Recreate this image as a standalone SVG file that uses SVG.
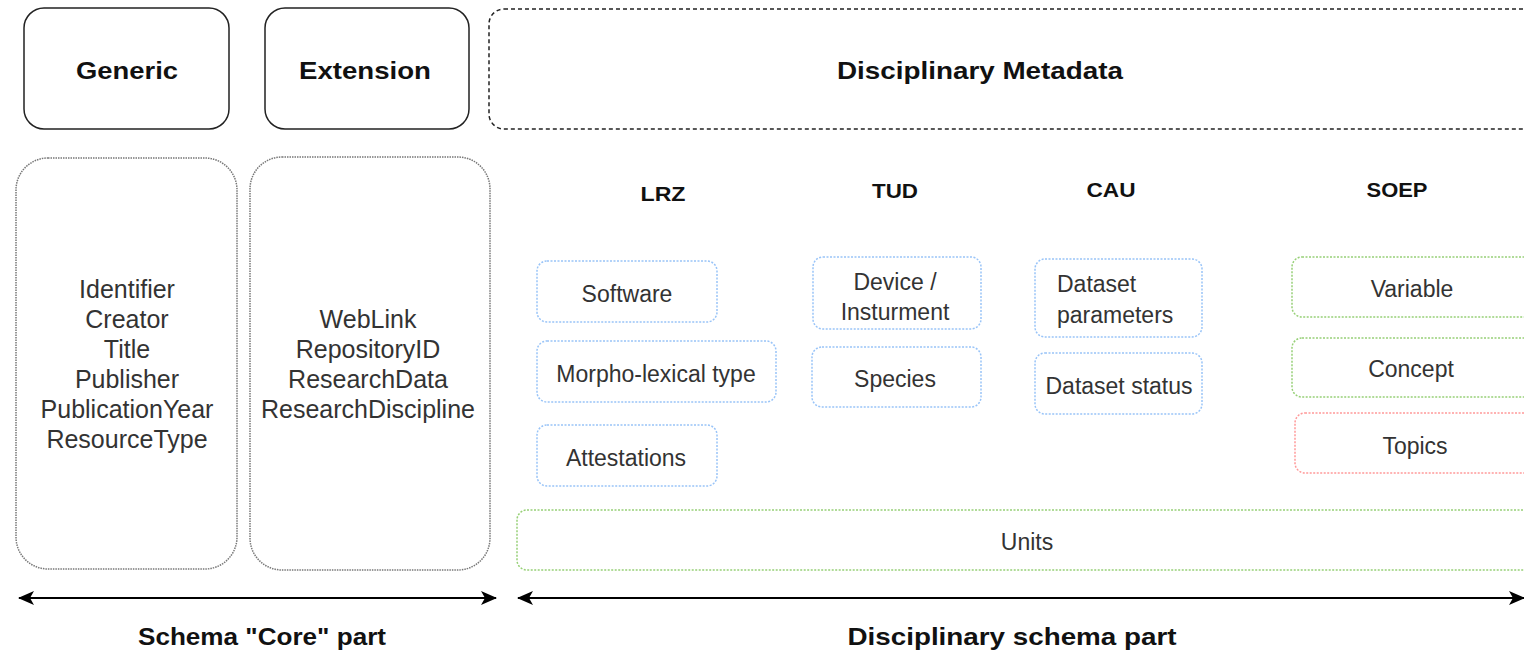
<svg xmlns="http://www.w3.org/2000/svg" width="1524" height="651" viewBox="0 0 1524 651">
<style>
.hdr{fill:#fff;stroke:#222;stroke-width:1.5}
.hdrd{fill:#fff;stroke:#222;stroke-width:1.5;stroke-dasharray:4 3}
.lst{fill:#fff;stroke:#777;stroke-width:1.5;stroke-dasharray:1.5 1}
.blue{fill:#fff;stroke:#99C4F8;stroke-width:1.5;stroke-dasharray:2 1.5}
.green{fill:#fff;stroke:#97D077;stroke-width:1.5;stroke-dasharray:2 1.5}
.red{fill:#fff;stroke:#FF9999;stroke-width:1.5;stroke-dasharray:2 1.5}
text{font-family:"Liberation Sans",Arial,sans-serif}
.b{font-weight:bold;fill:#111;text-anchor:middle}
.t{font-size:25px;fill:#333;text-anchor:middle}
.s{font-size:23px;fill:#333;text-anchor:middle}
.arr{stroke:#000;stroke-width:2;fill:none}
</style>
<defs>
<marker id="ah" viewBox="0 0 16 16" refX="15" refY="8" markerWidth="16" markerHeight="16" markerUnits="userSpaceOnUse" orient="auto-start-reverse">
<path d="M16,8 L0,1 L4,8 L0,15 Z" fill="#000"/>
</marker>
</defs>

<g id="generic">
<rect class="hdr" x="24" y="8" width="205" height="121" rx="20"/>
<text class="b" x="127" y="79" font-size="24" textLength="102" lengthAdjust="spacingAndGlyphs">Generic</text>
</g>
<g id="extension">
<rect class="hdr" x="265" y="8" width="204" height="121" rx="20"/>
<text class="b" x="365" y="79" font-size="24" textLength="132" lengthAdjust="spacingAndGlyphs">Extension</text>
</g>
<g id="disciplinary-metadata">
<rect class="hdrd" x="489" y="9" width="1080" height="120" rx="15"/>
<text class="b" x="980" y="79" font-size="24" textLength="286" lengthAdjust="spacingAndGlyphs">Disciplinary Metadata</text>
</g>

<g id="generic-list">
<rect class="lst" x="16" y="158" width="221" height="411" rx="32"/>
<text class="t" x="127" y="298">Identifier</text>
<text class="t" x="127" y="328">Creator</text>
<text class="t" x="127" y="358">Title</text>
<text class="t" x="127" y="388">Publisher</text>
<text class="t" x="127" y="418">PublicationYear</text>
<text class="t" x="127" y="448">ResourceType</text>
</g>
<g id="extension-list">
<rect class="lst" x="250" y="157" width="240" height="413" rx="32"/>
<text class="t" x="368" y="328">WebLink</text>
<text class="t" x="368" y="358">RepositoryID</text>
<text class="t" x="368" y="388">ResearchData</text>
<text class="t" x="368" y="418">ResearchDiscipline</text>
</g>

<g id="lrz">
<text class="b" x="663" y="201" font-size="21" textLength="45" lengthAdjust="spacingAndGlyphs">LRZ</text>
</g>
<g id="tud">
<text class="b" x="895" y="198" font-size="21" textLength="46" lengthAdjust="spacingAndGlyphs">TUD</text>
</g>
<g id="cau">
<text class="b" x="1111" y="197" font-size="21" textLength="49" lengthAdjust="spacingAndGlyphs">CAU</text>
</g>
<g id="soep">
<text class="b" x="1397" y="197" font-size="21" textLength="61" lengthAdjust="spacingAndGlyphs">SOEP</text>
</g>

<g id="software">
<rect class="blue" x="537" y="261" width="180" height="61" rx="10"/>
<text class="s" x="627" y="302">Software</text>
</g>
<g id="morpho-lexical-type">
<rect class="blue" x="537" y="341" width="239" height="61" rx="10"/>
<text class="s" x="656" y="382">Morpho-lexical type</text>
</g>
<g id="attestations">
<rect class="blue" x="537" y="425" width="180" height="61" rx="10"/>
<text class="s" x="626" y="466">Attestations</text>
</g>
<g id="device-instrument">
<rect class="blue" x="813" y="257" width="168" height="72" rx="10"/>
<text class="s" x="895" y="290">Device /</text>
<text class="s" x="895" y="320">Insturment</text>
</g>
<g id="species">
<rect class="blue" x="812" y="347" width="169" height="60" rx="10"/>
<text class="s" x="895" y="387">Species</text>
</g>
<g id="dataset-parameters">
<rect class="blue" x="1035" y="259" width="167" height="78" rx="10"/>
<text class="s" x="1057" y="292" style="text-anchor:start">Dataset</text>
<text class="s" x="1057" y="323" style="text-anchor:start">parameters</text>
</g>
<g id="dataset-status">
<rect class="blue" x="1035" y="353" width="167" height="61" rx="10"/>
<text class="s" x="1119" y="394">Dataset status</text>
</g>
<g id="variable">
<rect class="green" x="1292" y="257" width="280" height="60" rx="10"/>
<text class="s" x="1412" y="297">Variable</text>
</g>
<g id="concept">
<rect class="green" x="1292" y="338" width="280" height="59" rx="10"/>
<text class="s" x="1411" y="377">Concept</text>
</g>
<g id="topics">
<rect class="red" x="1295" y="413" width="280" height="60" rx="10"/>
<text class="s" x="1415" y="454">Topics</text>
</g>
<g id="units">
<rect class="green" x="517" y="510" width="1060" height="60" rx="10"/>
<text class="s" x="1027" y="550">Units</text>
</g>

<g id="connectors">
<line class="arr" x1="19" y1="598" x2="496" y2="598" marker-start="url(#ah)" marker-end="url(#ah)"/>
<line class="arr" x1="518" y1="598" x2="1524" y2="598" marker-start="url(#ah)" marker-end="url(#ah)"/>
</g>
<g id="labels">
<text class="b" x="262" y="645" font-size="24" textLength="248" lengthAdjust="spacingAndGlyphs">Schema "Core" part</text>
<text class="b" x="1012" y="645" font-size="24" textLength="329" lengthAdjust="spacingAndGlyphs">Disciplinary schema part</text>
</g>
</svg>
